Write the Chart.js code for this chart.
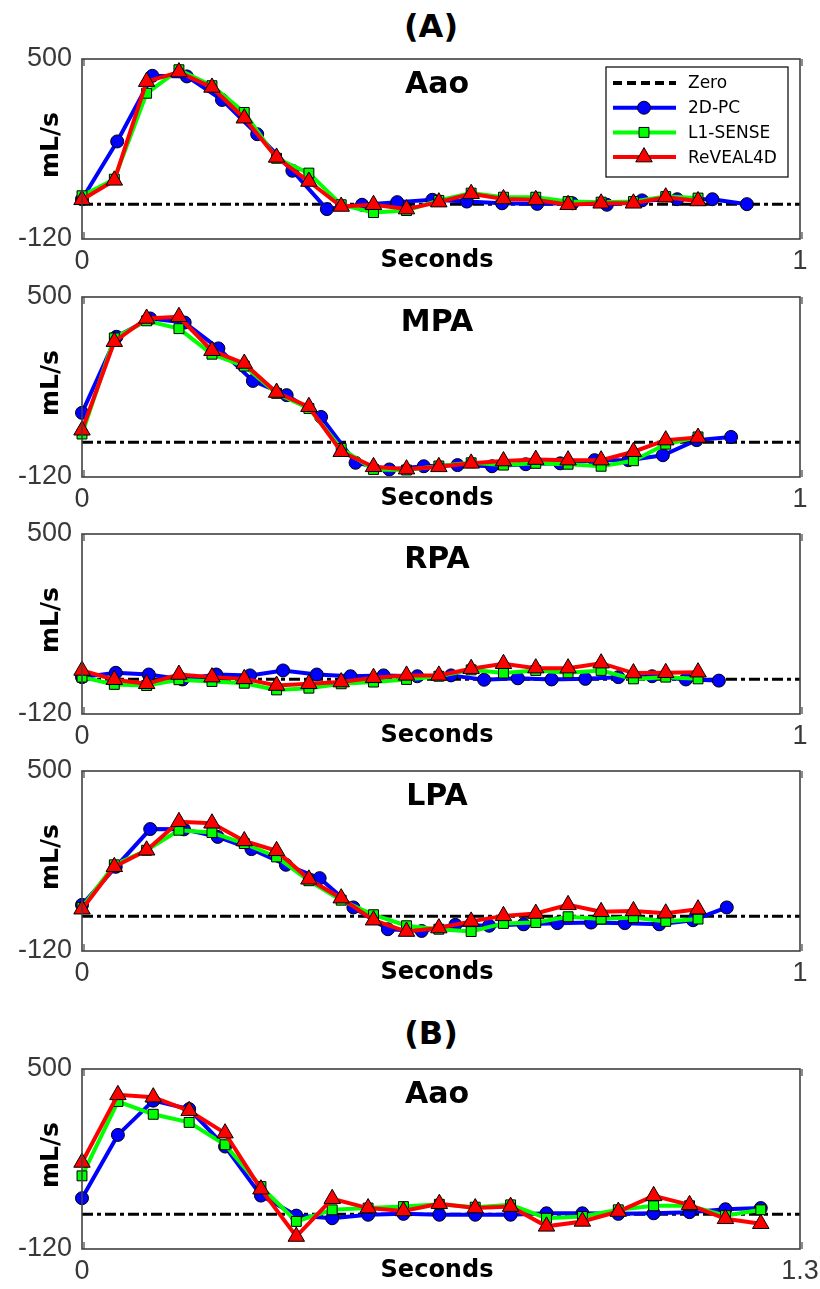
<!DOCTYPE html>
<html lang="en">
<head>
<meta charset="UTF-8" />
<title>Flow curves</title>
<script src="https://cdn.jsdelivr.net/npm/chart.js@4.4.1/dist/chart.umd.min.js"></script>
<style>
  body { margin: 0; background: #fff; width: 820px; height: 1289px; position: relative; overflow: hidden; }
  .tag { position: absolute; left: 0; width: 862px; text-align: center; font: bold 32px "DejaVu Sans"; line-height: 32px; color: #000; }
  .panel { position: absolute; left: 0; width: 820px; height: 245px; }
</style>
</head>
<body>
<div class="tag" style="top: 10px;">(A)</div>
<div class="tag" style="top: 1017px;">(B)</div>

<div class="panel" style="top: 44px;"><canvas id="cAaoA" width="820" height="245"></canvas></div>
<div class="panel" style="top: 282px;"><canvas id="cMpa" width="820" height="245"></canvas></div>
<div class="panel" style="top: 519px;"><canvas id="cRpa" width="820" height="245"></canvas></div>
<div class="panel" style="top: 756px;"><canvas id="cLpa" width="820" height="245"></canvas></div>
<div class="panel" style="top: 1054px;"><canvas id="cAaoB" width="820" height="245"></canvas></div>

<script>
// time points (s)
const tPcAaoA = [0, 0.049, 0.098, 0.146, 0.195, 0.244, 0.293, 0.341, 0.390, 0.439, 0.488, 0.536, 0.585, 0.634, 0.683, 0.731, 0.780, 0.829, 0.878, 0.926];
const tPcMpa  = [0, 0.048, 0.095, 0.143, 0.190, 0.238, 0.285, 0.333, 0.381, 0.428, 0.476, 0.523, 0.571, 0.618, 0.666, 0.714, 0.761, 0.809, 0.856, 0.904];
const tPcRpa  = [0, 0.047, 0.093, 0.140, 0.187, 0.234, 0.280, 0.327, 0.374, 0.420, 0.467, 0.514, 0.560, 0.607, 0.654, 0.701, 0.747, 0.794, 0.841, 0.887];
const tPcLpa  = [0, 0.047, 0.095, 0.142, 0.189, 0.236, 0.284, 0.331, 0.378, 0.426, 0.473, 0.520, 0.567, 0.615, 0.662, 0.709, 0.756, 0.804, 0.851, 0.898];
const tReconA = [0, 0.045, 0.090, 0.135, 0.181, 0.226, 0.271, 0.316, 0.361, 0.406, 0.452, 0.497, 0.542, 0.587, 0.632, 0.677, 0.723, 0.768, 0.813, 0.858];
const tB      = [0, 0.065, 0.129, 0.194, 0.259, 0.324, 0.388, 0.453, 0.518, 0.582, 0.647, 0.712, 0.776, 0.841, 0.906, 0.971, 1.035, 1.100, 1.165, 1.229];

// flow (mL/s)
const aaoA_pc = [17, 216, 442, 440, 359, 241, 115, -17, -2, 7, 15, 9, 3, 1, 3, -2, 13, 17, 17, 0];
const aaoA_l1 = [29, 86, 382, 463, 408, 316, 158, 107, -2, -29, -22, 13, 38, 24, 24, 9, 7, 9, 26, 21];
const aaoA_r4 = [15, 82, 422, 455, 402, 296, 161, 78, -8, -2, -17, 7, 36, 18, 15, -2, 3, 3, 24, 11];

const mpa_pc = [101, 363, 426, 412, 323, 211, 162, 87, -71, -94, -83, -79, -83, -76, -73, -62, -62, -45, 7, 18];
const mpa_l1 = [28, 359, 418, 391, 303, 262, 168, 116, -22, -94, -96, -82, -71, -79, -73, -76, -83, -64, -7, 18];
const mpa_r4 = [41, 346, 426, 432, 315, 271, 171, 122, -33, -85, -93, -85, -73, -65, -60, -62, -62, -33, 7, 16];

const rpa_pc = [7, 22, 16, -1, 16, 13, 30, 16, 10, 13, 10, 13, -2, 3, -1, 1, 7, 10, -1, -5];
const rpa_l1 = [7, -18, -22, -2, -8, -14, -37, -31, -16, -10, -1, 10, 32, 21, 30, 22, 30, 1, 7, 1];
const rpa_r4 = [30, -2, -16, 16, 7, 1, -22, -16, -10, 5, 13, 13, 36, 53, 38, 38, 55, 21, 22, 24];

const lpa_pc = [39, 170, 300, 299, 273, 231, 177, 131, 30, -45, -51, -30, -33, -28, -24, -22, -24, -28, -14, 30];
const lpa_l1 = [30, 177, 227, 296, 288, 250, 204, 122, 55, 5, -33, -45, -53, -25, -22, -2, -10, -5, -18, -10];
const lpa_r4 = [24, 170, 227, 325, 320, 259, 225, 127, 62, -14, -53, -41, -18, 1, 9, 39, 15, 18, 10, 24];

const aaoB_pc = [55, 273, 391, 362, 233, 64, -5, -14, -2, 1, -2, -2, -2, 3, 3, 1, 3, 7, 17, 21];
const aaoB_l1 = [132, 388, 344, 316, 239, 95, -25, 15, 21, 26, 34, 24, 32, -14, -8, 15, 29, 29, -5, 15];
const aaoB_r4 = [178, 411, 403, 356, 279, 86, -77, 53, 21, 11, 36, 21, 26, -42, -25, 9, 63, 32, -16, -33];

const yTicks = [-120, 500];
const seriesNames = ['Zero', '2D-PC', 'L1-SENSE', 'ReVEAL4D'];

const pts = (t, v) => v.map((y, i) => ({ x: t[i], y: y }));

// marker shapes for the hand drawn legend
function marker(ctx, style, x, y, r, fill) {
    ctx.beginPath();
    if (style === 'circle') {
        ctx.arc(x, y, r, 0, Math.PI * 2);
    } else if (style === 'rect') {
        const s = r * Math.SQRT1_2;
        ctx.rect(x - s, y - s, 2 * s, 2 * s);
    } else {
        ctx.moveTo(x, y - r);
        ctx.lineTo(x + r * Math.sin(2 * Math.PI / 3), y + r / 2);
        ctx.lineTo(x - r * Math.sin(2 * Math.PI / 3), y + r / 2);
        ctx.closePath();
    }
    ctx.fillStyle = fill;
    ctx.fill();
    ctx.lineWidth = 1;
    ctx.strokeStyle = '#000';
    ctx.stroke();
}

const decor = {
    id: 'decor',
    afterDraw(chart, args, o) {
        const { ctx, chartArea: a, scales } = chart;
        ctx.save();
        // axes box
        ctx.strokeStyle = '#404040';
        ctx.lineWidth = 1.6;
        ctx.strokeRect(a.left, a.top, a.width, a.height);
        // inward tick marks at x ticks
        ctx.lineWidth = 1.2;
        scales.x.ticks.forEach(tk => {
            const px = scales.x.getPixelForValue(tk.value);
            ctx.beginPath();
            ctx.moveTo(px + 2, a.top); ctx.lineTo(px + 2, a.top + 7);
            ctx.moveTo(px + 2, a.bottom); ctx.lineTo(px + 2, a.bottom - 7);
            ctx.stroke();
        });
        // panel title, x label, y label
        const cx = (a.left + a.right) / 2 - 4;
        ctx.fillStyle = '#000';
        ctx.textAlign = 'center';
        ctx.textBaseline = 'alphabetic';
        ctx.font = 'bold 30px "DejaVu Sans"';
        ctx.fillText(o.title, cx, a.top + 34);
        ctx.font = 'bold 24px "DejaVu Sans"';
        ctx.fillText('Seconds', cx, a.bottom + 28);
        ctx.save();
        ctx.translate(51, (a.top + a.bottom) / 2 - 4);
        ctx.rotate(-Math.PI / 2);
        ctx.textBaseline = 'middle';
        ctx.font = 'bold 25px "DejaVu Sans"';
        ctx.fillText('mL/s', 0, 0);
        ctx.restore();

        if (o.legend) {
            const bx = a.right - 194, by = a.top + 8, bw = 182, bh = 110;
            ctx.fillStyle = '#fff';
            ctx.fillRect(bx, by, bw, bh);
            ctx.strokeStyle = '#000';
            ctx.lineWidth = 1.2;
            ctx.strokeRect(bx, by, bw, bh);
            const ds = chart.data.datasets;
            ctx.font = '17px "DejaVu Sans"';
            ctx.textAlign = 'left';
            ctx.textBaseline = 'middle';
            seriesNames.forEach((name, i) => {
                const d = ds.find(s => s.label === name);
                const y = by + 16 + i * 24.7;
                ctx.beginPath();
                ctx.moveTo(bx + 7, y); ctx.lineTo(bx + 70, y);
                ctx.strokeStyle = d.borderColor;
                ctx.lineWidth = 4;
                ctx.setLineDash(name === 'Zero' ? [9, 5] : []);
                ctx.stroke();
                ctx.setLineDash([]);
                if (d.pointRadius > 0) marker(ctx, d.pointStyle, bx + 38, y, d.pointRadius, d.pointBackgroundColor);
                ctx.fillStyle = '#000';
                ctx.fillText(name, bx + 82, y + 1);
            });
        }
        ctx.restore();
    }
};

function makePanel(id, title, xmax, tPc, tRe, pc, l1, r4, legend) {
    new Chart(document.getElementById(id), {
        type: 'line',
        data: {
            datasets: [
                {
                    label: 'ReVEAL4D', data: pts(tRe, r4), order: 0,
                    borderColor: '#ff0000', borderWidth: 4, pointStyle: 'triangle', pointRadius: 9.5,
                    pointBackgroundColor: '#ff0000', pointBorderColor: '#000', pointBorderWidth: 1
                },
                {
                    label: 'L1-SENSE', data: pts(tRe, l1), order: 1,
                    borderColor: '#00ff00', borderWidth: 4, pointStyle: 'rect', pointRadius: 7,
                    pointBackgroundColor: '#00ff00', pointBorderColor: '#000', pointBorderWidth: 1
                },
                {
                    label: '2D-PC', data: pts(tPc, pc), order: 2,
                    borderColor: '#0000ff', borderWidth: 4, pointStyle: 'circle', pointRadius: 6.5,
                    pointBackgroundColor: '#0000ff', pointBorderColor: '#000', pointBorderWidth: 1
                },
                {
                    label: 'Zero', data: [{ x: 0, y: 0 }, { x: xmax, y: 0 }], order: 3,
                    borderColor: '#000', borderWidth: 3, borderDash: [11, 4, 4, 4], pointRadius: 0
                }
            ]
        },
        options: {
            responsive: false,
            animation: false,
            events: [],
            clip: false,
            layout: { padding: { left: 0, right: 20, top: 15, bottom: 0 } },
            elements: { line: { tension: 0 } },
            plugins: {
                legend: { display: false },
                tooltip: { enabled: false },
                decor: { title: title, legend: legend }
            },
            scales: {
                x: {
                    type: 'linear', min: 0, max: xmax,
                    grid: { display: false, drawTicks: false },
                    border: { display: false },
                    afterBuildTicks: s => { s.ticks = [{ value: 0 }, { value: xmax }]; },
                    afterFit: s => { s.height = 50; s.paddingLeft = 0; s.paddingRight = 0; },
                    ticks: {
                        padding: 6, autoSkip: false, maxRotation: 0,
                        color: '#383838', font: { family: 'Liberation Sans', size: 27 },
                        callback: v => String(v)
                    }
                },
                y: {
                    min: yTicks[0], max: yTicks[1],
                    grid: { display: false, drawTicks: false },
                    border: { display: false },
                    afterBuildTicks: s => { s.ticks = yTicks.map(v => ({ value: v })); },
                    afterFit: s => { s.width = 82; s.paddingTop = 0; s.paddingBottom = 0; },
                    ticks: {
                        padding: 10,
                        color: '#383838', font: { family: 'Liberation Sans', size: 27 }
                    }
                }
            }
        },
        plugins: [decor]
    });
}

makePanel('cAaoA', 'Aao', 1, tPcAaoA, tReconA, aaoA_pc, aaoA_l1, aaoA_r4, true);
makePanel('cMpa', 'MPA', 1, tPcMpa, tReconA, mpa_pc, mpa_l1, mpa_r4, false);
makePanel('cRpa', 'RPA', 1, tPcRpa, tReconA, rpa_pc, rpa_l1, rpa_r4, false);
makePanel('cLpa', 'LPA', 1, tPcLpa, tReconA, lpa_pc, lpa_l1, lpa_r4, false);
makePanel('cAaoB', 'Aao', 1.3, tB, tB, aaoB_pc, aaoB_l1, aaoB_r4, false);
</script>
</body>
</html>
